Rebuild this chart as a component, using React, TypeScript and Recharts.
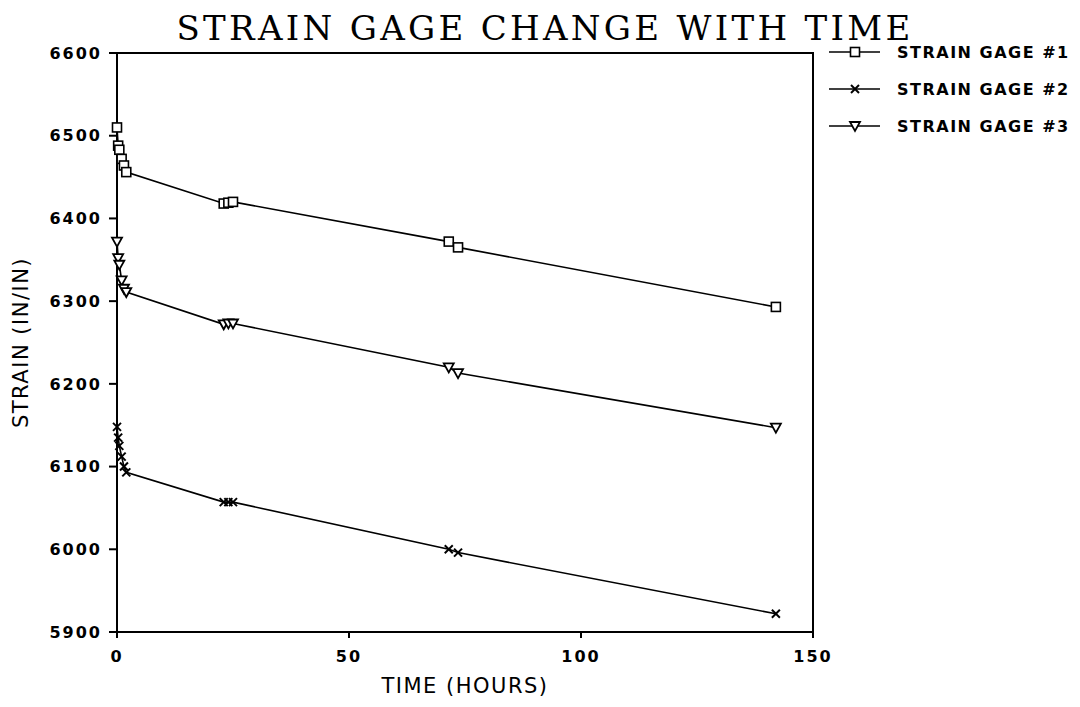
import React from 'react';
import {
  LineChart, Line, XAxis, YAxis, Label, ReferenceArea,
} from 'recharts';

const hours = [0, 0.25, 0.5, 1, 1.5, 2, 23, 24, 25, 71.5, 73.5, 142];
const gage1 = [6510, 6488, 6483, 6472, 6464, 6456, 6418, 6419, 6420, 6372, 6365, 6293];
const gage2 = [6148, 6135, 6125, 6112, 6100, 6093, 6057, 6057, 6057, 6000, 5996, 5922];
const gage3 = [6372, 6352, 6344, 6325, 6315, 6311, 6272, 6273, 6273, 6220, 6213, 6147];
const xTicks = [0, 50, 100, 150];
const yTicks = [5900, 6000, 6100, 6200, 6300, 6400, 6500, 6600];
const seriesNames = ['STRAIN GAGE #1', 'STRAIN GAGE #2', 'STRAIN GAGE #3'];

const data = hours.map((h, i) => ({ h, g1: gage1[i], g2: gage2[i], g3: gage3[i] }));

const tickFont = { fontFamily: 'DejaVu Sans', fontSize: 16, fontWeight: 'bold', fill: '#000', letterSpacing: 2 };
const labelFont = { fontFamily: 'DejaVu Sans', fontSize: 21, fill: '#000', letterSpacing: 1.5 };

const Marker = ({ kind, cx, cy }: { kind: string; cx: number; cy: number }) => {
  if (kind === 'square') {
    return <rect x={cx - 4.5} y={cy - 4.5} width={9} height={9} fill="#fff" stroke="#000" strokeWidth={1.6} />;
  }
  if (kind === 'x') {
    return (
      <g stroke="#000" strokeWidth={2}>
        <line x1={cx - 4} y1={cy - 4} x2={cx + 4} y2={cy + 4} />
        <line x1={cx - 4} y1={cy + 4} x2={cx + 4} y2={cy - 4} />
      </g>
    );
  }
  return <path d={`M${cx - 5},${cy - 4} L${cx + 5},${cy - 4} L${cx},${cy + 5} Z`} fill="#fff" stroke="#000" strokeWidth={1.8} />;
};

const makeDot = (kind: string) => (props: any) => {
  const { cx, cy, index } = props;
  if (cx == null || cy == null) return <g key={index} />;
  return <Marker key={index} kind={kind} cx={cx} cy={cy} />;
};

const kinds = ['square', 'x', 'triangle'];

const LegendBox = () => (
  <svg width={262} height={120} style={{ position: 'absolute', left: 812, top: 20 }}>
    {seriesNames.map((name, i) => {
      const y = 24 + i * 37;
      return (
        <g key={name}>
          <line x1={9} x2={60} y1={y} y2={y} stroke="#000" strokeWidth={1.5} />
          <Marker kind={kinds[i]} cx={35} cy={y} />
          <text x={77} y={y + 6} style={{ ...tickFont, letterSpacing: 1.5 }}>{name}</text>
        </g>
      );
    })}
  </svg>
);

export default function App() {
  return (
    <div style={{ position: 'relative', width: 1064, height: 690, background: '#fff' }}>
      <div style={{
        position: 'absolute', left: 0, top: 0, width: 1074, textAlign: 'center',
        fontFamily: 'DejaVu Serif', fontSize: 34, letterSpacing: 3.3, lineHeight: '40px',
        color: '#000', zIndex: 2,
      }}>
        STRAIN GAGE CHANGE WITH TIME
      </div>
      <LineChart width={1064} height={690} data={data}
        margin={{ top: 45, right: 259, left: 49, bottom: 36 }}>
        <XAxis dataKey="h" type="number" domain={[0, 150]} ticks={xTicks}
          stroke="#000" strokeWidth={2} tickSize={6} tick={tickFont} tickMargin={13} height={30}>
          <Label value="TIME (HOURS)" position="bottom" offset={14} dy={2}
            style={labelFont} />
        </XAxis>
        <YAxis domain={[5900, 6600]} ticks={yTicks} stroke="#000" strokeWidth={2}
          tickSize={8} tick={tickFont} tickMargin={7} width={60}>
          <Label value="STRAIN (IN/IN)" angle={-90} position="insideLeft" offset={-36}
            style={{ ...labelFont, textAnchor: 'middle' }} />
        </YAxis>
        <ReferenceArea x1={0} x2={150} y1={5900} y2={6600} fill="none"
          stroke="#000" strokeWidth={2} ifOverflow="visible" />
        <Line dataKey="g1" type="linear" stroke="#000" strokeWidth={1.6}
          dot={makeDot('square')} isAnimationActive={false} />
        <Line dataKey="g2" type="linear" stroke="#000" strokeWidth={1.6}
          dot={makeDot('x')} isAnimationActive={false} />
        <Line dataKey="g3" type="linear" stroke="#000" strokeWidth={1.6}
          dot={makeDot('triangle')} isAnimationActive={false} />
      </LineChart>
      <LegendBox />
    </div>
  );
}
